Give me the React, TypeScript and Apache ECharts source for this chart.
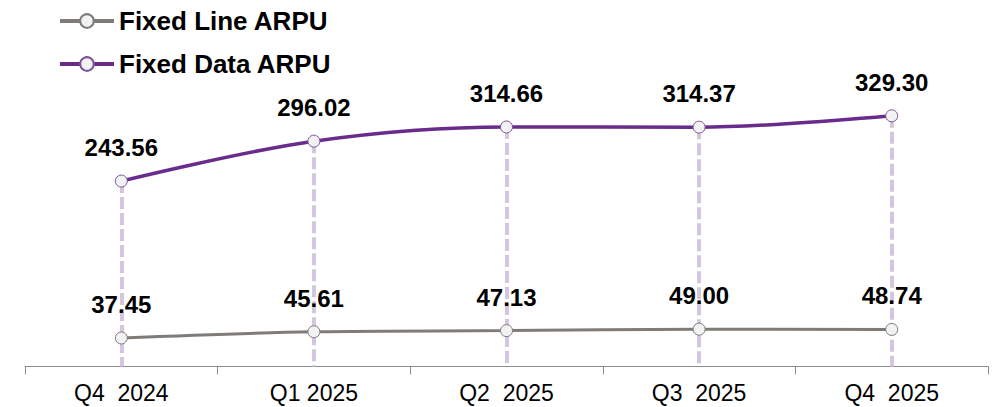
import React, { useEffect, useRef } from "react";
import * as echarts from "echarts";

const categories = ["Q4  2024", "Q1 2025", "Q2  2025", "Q3  2025", "Q4  2025"];
const fixedLineARPU = [37.45, 45.61, 47.13, 49.0, 48.74];
const fixedDataARPU = [243.56, 296.02, 314.66, 314.37, 329.3];

const FONT = "'Liberation Sans', Arial, sans-serif";
const GRAY = "#7f7b78";
const PURPLE = "#6a2c8c";
const DROP = "#d5c5e1";

export default function App() {
  const ref = useRef<HTMLDivElement>(null);
  useEffect(() => {
    if (!ref.current) return;
    const chart = echarts.init(ref.current, undefined, { renderer: "svg" });
    const labelCommon = {
      show: true,
      position: "top" as const,
      distance: 15,
      color: "#000",
      fontFamily: FONT,
      fontWeight: "bold" as const,
      fontSize: 24,
      formatter: (p: any) => Number(p.value).toFixed(2),
    };
    chart.setOption({
      animation: false,
      legend: {
        left: 58,
        top: 8,
        padding: 0,
        orient: "vertical",
        itemWidth: 54,
        itemHeight: 17,
        itemGap: 17,
        lineStyle: { width: 4 },
        data: ["Fixed Line ARPU", "Fixed Data ARPU"],
        textStyle: { fontFamily: FONT, fontWeight: "bold", fontSize: 26, color: "#000" },
      },
      grid: { left: 25, right: 12, top: 62, bottom: 40.5 },
      xAxis: {
        type: "category",
        data: categories,
        boundaryGap: true,
        axisLine: { lineStyle: { color: "#8c8c8c", width: 1 } },
        axisTick: { show: true, length: 8, lineStyle: { color: "#8c8c8c" } },
        axisLabel: { color: "#000", fontFamily: FONT, fontSize: 23, margin: 15 },
      },
      yAxis: {
        type: "value",
        min: 0,
        max: 400,
        show: false,
        splitLine: { show: false },
      },
      series: [
        {
          name: "drops",
          type: "line",
          data: [],
          z: 1,
          silent: true,
          markLine: {
            silent: true,
            z: 1,
            symbol: ["none", "none"],
            label: { show: false },
            lineStyle: { color: DROP, width: 4, type: [12, 4] },
            data: categories.map((c, i) => [
              { coord: [c, fixedDataARPU[i]] },
              { coord: [c, 0] },
            ]),
          },
        },
        {
          name: "Fixed Line ARPU",
          type: "line",
          smooth: 0.35,
          z: 3,
          data: fixedLineARPU,
          symbol: "circle",
          symbolSize: 12,
          lineStyle: { color: GRAY, width: 3 },
          itemStyle: { color: "#f2f2f2", borderColor: GRAY, borderWidth: 1 },
          label: labelCommon,
        },
        {
          name: "Fixed Data ARPU",
          type: "line",
          smooth: 0.35,
          z: 3,
          data: fixedDataARPU,
          symbol: "circle",
          symbolSize: 12,
          lineStyle: { color: PURPLE, width: 3.5 },
          itemStyle: { color: "#f2f2f2", borderColor: "#7d559c", borderWidth: 1 },
          label: labelCommon,
        },
      ],
    });
    return () => chart.dispose();
  }, []);
  return <div ref={ref} style={{ width: 1000, height: 407, position: "absolute", left: 0, top: 0 }} />;
}
